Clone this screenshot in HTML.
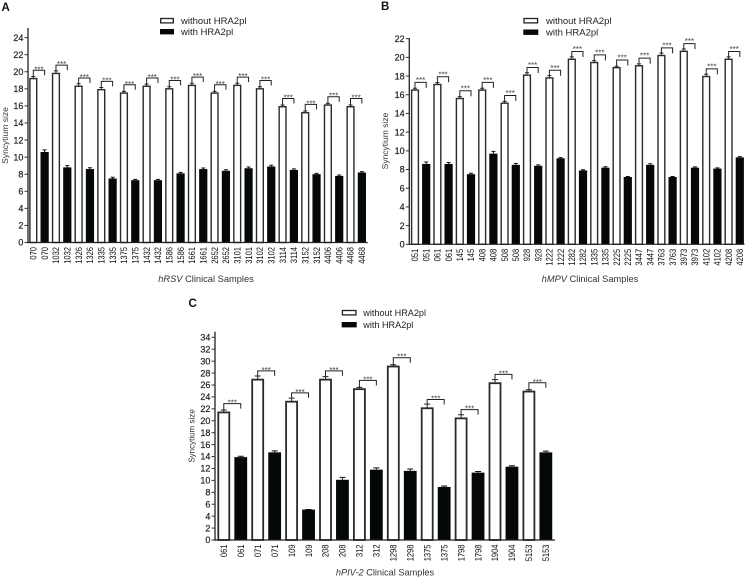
<!DOCTYPE html>
<html>
<head>
<meta charset="utf-8">
<style>
html,body{margin:0;padding:0;background:#fff;}
body{width:748px;height:577px;overflow:hidden;}
svg{display:block;filter:blur(0.35px);font-family:"Liberation Sans",sans-serif;}
</style>
</head>
<body>
<svg id="figure" width="748" height="577" viewBox="0 0 748 577" xmlns="http://www.w3.org/2000/svg"></svg>
<script>
const seriesNames = ["without HRA2pl", "with HRA2pl"];

const aCategories = ["070","1032","1326","1335","1375","1432","1586","1661","2652","3101","3102","3114","3152","4406","4468"];
const aWithout = [19.2,19.8,18.3,17.9,17.5,18.3,18.0,18.4,17.5,18.4,18.0,15.9,15.2,16.1,15.9];
const aWithoutErr = [0.25,0.3,0.3,0.25,0.2,0.25,0.25,0.25,0.2,0.25,0.25,0.2,0.2,0.2,0.2];
const aWith = [10.6,8.8,8.6,7.5,7.3,7.3,8.1,8.6,8.4,8.7,8.9,8.5,8.0,7.8,8.2];
const aWithErr = [0.25,0.2,0.15,0.15,0.1,0.1,0.12,0.12,0.12,0.15,0.15,0.12,0.1,0.1,0.1];
const aTicks = [0,2,4,6,8,10,12,14,16,18,20,22,24];

const bCategories = ["051","061","145","408","508","928","1222","1282","1335","2225","3447","3763","3973","4102","4208"];
const bWithout = [16.5,17.1,15.6,16.5,15.1,18.1,17.8,19.8,19.45,18.9,19.1,20.2,20.65,17.95,19.8];
const bWithoutErr = [0.2,0.2,0.2,0.2,0.2,0.25,0.25,0.25,0.2,0.15,0.2,0.25,0.25,0.25,0.25];
const bWith = [8.6,8.6,7.5,9.7,8.5,8.4,9.2,7.9,8.2,7.2,8.5,7.2,8.2,8.1,9.3];
const bWithErr = [0.2,0.15,0.1,0.25,0.15,0.1,0.08,0.08,0.1,0.06,0.12,0.06,0.08,0.08,0.08];
const bTicks = [0,2,4,6,8,10,12,14,16,18,20,22];

const cCategories = ["061","071","109","208","312","1298","1375","1798","1904","5153"];
const cWithout = [21.4,26.9,23.2,26.9,25.3,29.1,22.1,20.4,26.3,24.9];
const cWithoutErr = [0.4,0.6,0.6,0.5,0.3,0.3,0.7,0.6,0.6,0.3];
const cWith = [13.9,14.7,5.1,10.1,11.8,11.6,8.9,11.3,12.3,14.7];
const cWithErr = [0.15,0.25,0.02,0.4,0.3,0.3,0.15,0.2,0.15,0.2];
const cTicks = [0,2,4,6,8,10,12,14,16,18,20,22,24,26,28,30,32,34];

const SVG_NS = "http://www.w3.org/2000/svg";
const figure = document.getElementById("figure");

function make(parent, tag, props, text) {
  const node = document.createElementNS(SVG_NS, tag);
  for (const key in props) node.setAttribute(key, props[key]);
  if (text !== undefined) node.textContent = text;
  parent.appendChild(node);
  return node;
}

function drawPanel(p) {
  const yAt = v => p.baseY - (v / p.yMax) * (p.baseY - p.topY);
  const xAt = i => p.firstX + i * p.stepX;
  const panel = make(figure, "g", {});
  
  

  const letter = make(panel, "text", {x:p.letterX, y:p.letterY, "font-size":11.5, "font-weight":"bold", fill:"#111"}, p.letter);
  
  

  p.categories.forEach((cat, c) => {
    const wx = xAt(c * 2);
    const bx = xAt(c * 2 + 1);
    const wTop = yAt(p.without[c]);
    const wErrTop = yAt(p.without[c] + p.withoutErr[c]);
    const bTop = yAt(p.withVals[c]);
    const bErrTop = yAt(p.withVals[c] + p.withErr[c]);

    const wErr = make(panel, "path", {d:`M${wx} ${wTop}V${wErrTop}M${wx-p.cap} ${wErrTop}H${wx+p.cap}`, stroke:"#222", "stroke-width":1, fill:"none"});
    
    

    const sw = p.barStroke;
    const wBar = make(panel, "rect", {x:wx-p.barW/2+sw/2, y:wTop, width:p.barW-sw, height:p.baseY-wTop, fill:"#fff", stroke:"#2a2a2a", "stroke-width":sw});
    
    

    const bErr = make(panel, "path", {d:`M${bx} ${bTop}V${bErrTop}M${bx-p.cap} ${bErrTop}H${bx+p.cap}`, stroke:"#111", "stroke-width":1, fill:"none"});
    
    

    const bBar = make(panel, "rect", {x:bx-p.barW/2, y:bTop, width:p.barW, height:p.baseY-bTop, fill:"#050808"});
    
    

    const brY = wTop - p.bracketGap;
    const bracket = make(panel, "path", {d:`M${wx} ${wErrTop}V${brY}H${bx}V${brY+p.bracketDrop}`, stroke:"#222", "stroke-width":1, fill:"none"});
    
    

    const stars = make(panel, "text", {x:(wx+bx)/2, y:brY+p.starDy, "font-size":8, "text-anchor":"middle", fill:"#444"}, "***");
    
    

    [[wx,"without"],[bx,"with"]].forEach(([lx, kind]) => {
      const lab = make(panel, "text", {transform:`translate(${lx+3.2} ${p.baseY+4.5}) rotate(-90) scale(0.84 1)`, "font-size":p.xFont, "text-anchor":"end", fill:"#111"}, cat);
      
      
    });
  });

  const yAxis = make(panel, "line", {x1:p.axisX, x2:p.axisX, y1:p.axisTop, y2:p.baseY+0.7, stroke:"#333", "stroke-width":1.4});
  
  

  const xAxis = make(panel, "line", {x1:p.axisX, x2:p.axisEnd, y1:p.baseY, y2:p.baseY, stroke:"#222", "stroke-width":1.2});
  
  

  p.ticks.forEach(t => {
    const tick = make(panel, "line", {x1:p.axisX-3.5, x2:p.axisX, y1:yAt(t), y2:yAt(t), stroke:"#333", "stroke-width":1});
    
    
    const lab = make(panel, "text", {x:p.axisX-4.6, y:yAt(t)+3.2, "font-size":9, "text-anchor":"end", fill:"#222", stroke:"#222", "stroke-width":0.2}, String(t));
    
    
  });

  const yTitle = make(panel, "text", {transform:`translate(${p.yTitleX} ${p.yTitleY}) rotate(-90)`, "font-size":p.yTitleFont, "text-anchor":"middle", fill:"#333"}, "Syncytium size");
  
  

  const xTitle = make(panel, "text", {x:p.xTitleX, y:p.xTitleY, "font-size":p.xTitleFont, "text-anchor":"middle", fill:"#333"});
  
  
  make(xTitle, "tspan", {"font-style":"italic"}, p.virus);
  make(xTitle, "tspan", {}, " Clinical Samples");

  seriesNames.forEach((name, s) => {
    const ly = s === 0 ? p.legendY1 : p.legendY2;
    const swatch = make(panel, "rect", s === 0
      ? {x:p.legendX+0.7, y:ly-2.5, width:p.legendW-1.4, height:4.4, fill:"#fff", stroke:"#222", "stroke-width":1.3}
      : {x:p.legendX, y:ly-3, width:p.legendW, height:5.4, fill:"#050808"});
    
    
    const label = make(panel, "text", {x:p.legendTextX, y:ly+3.2, "font-size":p.legendFont, fill:"#222"}, name);
    
    
  });
}

drawPanel({
  id:"a", letter:"A", letterX:1.5, letterY:11,
  categories:aCategories, without:aWithout, withoutErr:aWithoutErr, withVals:aWith, withErr:aWithErr, ticks:aTicks,
  yMax:24, baseY:242.5, topY:37.6, axisX:28, axisTop:28, axisEnd:367.7,
  firstX:33.3, stepX:11.33, barW:8.2, barStroke:1.4, cap:2,
  bracketGap:8.3, bracketDrop:5, starDy:2, xFont:9,
  yTitleX:8, yTitleY:135.5, yTitleFont:8.5,
  xTitleX:206, xTitleY:282, xTitleFont:9.3, virus:"hRSV",
  legendX:160, legendW:14, legendY1:21, legendY2:32, legendTextX:181, legendFont:9.5
});
drawPanel({
  id:"b", letter:"B", letterX:381, letterY:10,
  categories:bCategories, without:bWithout, withoutErr:bWithoutErr, withVals:bWith, withErr:bWithErr, ticks:bTicks,
  yMax:22, baseY:244.3, topY:38.7, axisX:409.3, axisTop:38, axisEnd:744.5,
  firstX:415, stepX:11.2, barW:8.2, barStroke:1.4, cap:2,
  bracketGap:7.7, bracketDrop:5.5, starDy:0.5, xFont:9,
  yTitleX:388, yTitleY:141, yTitleFont:8.5,
  xTitleX:590, xTitleY:282, xTitleFont:9.3, virus:"hMPV",
  legendX:523.3, legendW:15, legendY1:21, legendY2:32.5, legendTextX:546, legendFont:9.5
});
drawPanel({
  id:"c", letter:"C", letterX:188.5, letterY:307,
  categories:cCategories, without:cWithout, withoutErr:cWithoutErr, withVals:cWith, withErr:cWithErr, ticks:cTicks,
  yMax:34, baseY:540, topY:337.3, axisX:215, axisTop:331.7, axisEnd:555,
  firstX:223.8, stepX:16.95, barW:12.8, barStroke:1.8, cap:3,
  bracketGap:8.8, bracketDrop:5, starDy:2, xFont:9,
  yTitleX:194.5, yTitleY:436, yTitleFont:8,
  xTitleX:385, xTitleY:575.5, xTitleFont:9.2, virus:"hPIV-2",
  legendX:341.7, legendW:15, legendY1:313, legendY2:325, legendTextX:363.3, legendFont:9.1
});
</script>
</body>
</html>
